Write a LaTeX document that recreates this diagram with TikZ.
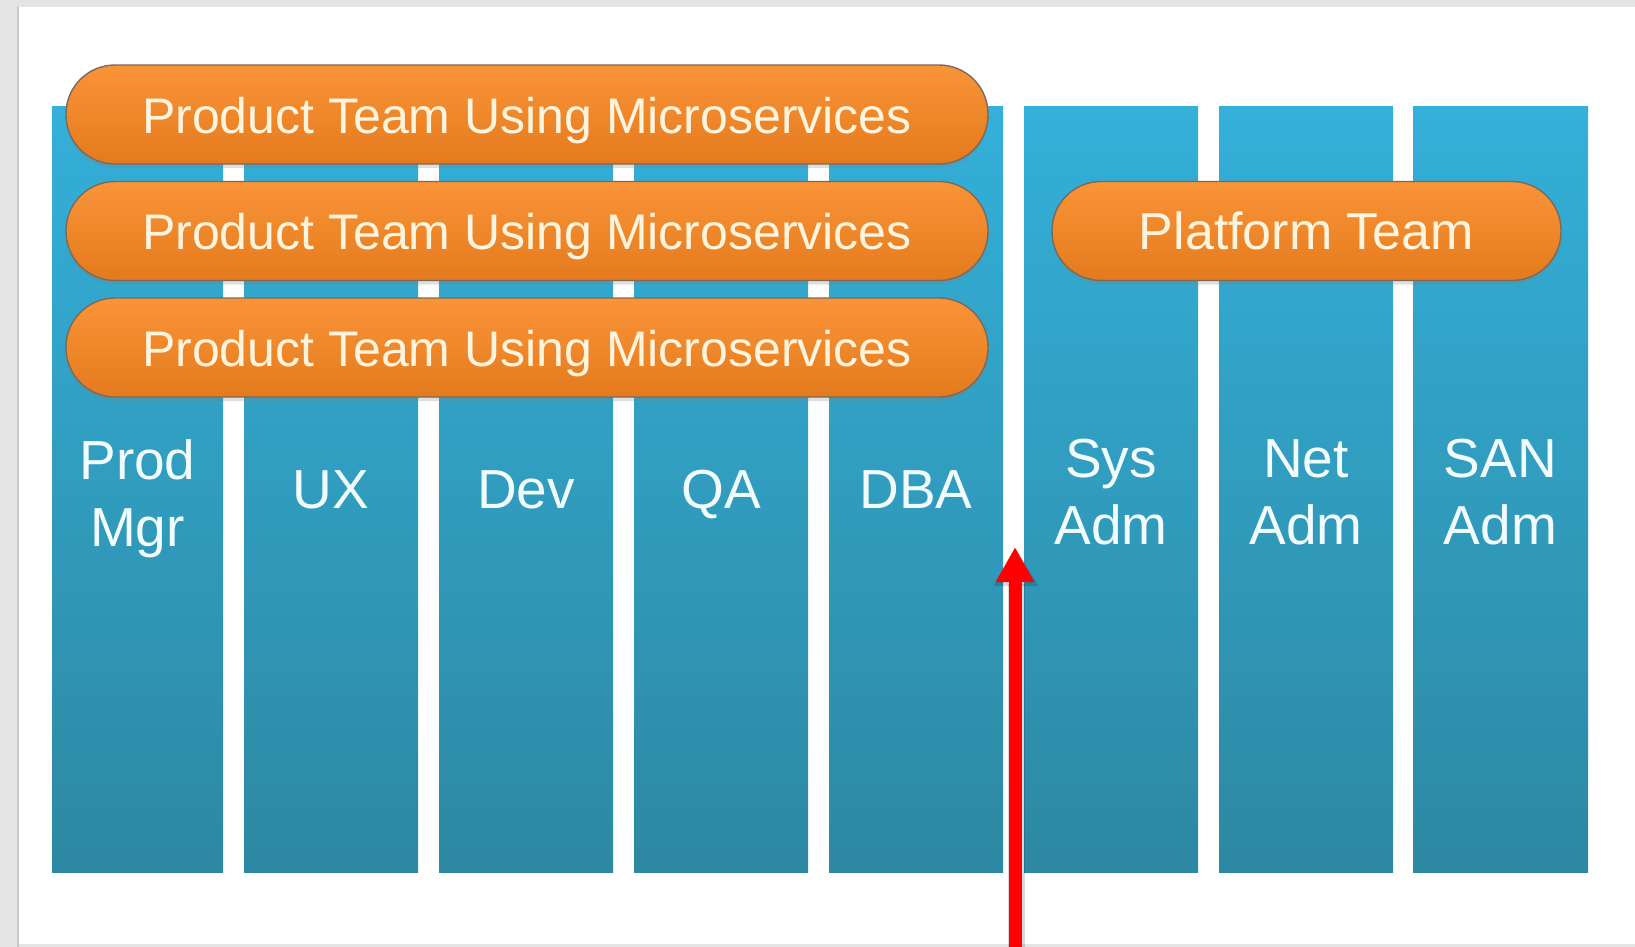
\documentclass[tikz,border=0pt]{standalone}
\usepackage{fontspec}
\setmainfont{Liberation Sans}
\usetikzlibrary{arrows.meta,shadows}
\definecolor{bggray}{HTML}{E4E4E4}
\definecolor{frameedge}{HTML}{C8C8C8}
\definecolor{coltop}{RGB}{52,176,218}
\definecolor{colbot}{RGB}{45,136,162}
\definecolor{pilltop}{RGB}{250,148,56}
\definecolor{pillbot}{RGB}{228,122,30}
\definecolor{pilledge}{RGB}{125,105,90}
\definecolor{pilltext}{RGB}{255,244,222}
\definecolor{labeltext}{RGB}{242,252,255}
\definecolor{arrowred}{RGB}{255,0,0}
\begin{document}
\begin{tikzpicture}[x=1pt,y=-1pt,
  rolecol/.style={draw=none, top color=coltop, bottom color=colbot,
    minimum height=765pt, inner sep=0pt, outer sep=0pt, anchor=north west},
  pill/.style={rounded corners=49pt, draw=pilledge, line width=1.4pt,
    top color=pilltop, bottom color=pillbot, text=pilltext,
    font=\fontsize{50}{60}\selectfont, minimum height=99pt, inner sep=0pt,
    text height=37pt, text depth=0pt,
    drop shadow={shadow xshift=0pt, shadow yshift=-4pt, opacity=0.25}},
  rolelabel/.style={text=labeltext, font=\fontsize{55}{67}\selectfont,
    align=center, inner sep=0pt},
  uparrow/.style={line width=13pt, draw=arrowred,
    -{Triangle[length=35pt,width=36pt]}}
]
\useasboundingbox (0,0) rectangle (1635,947);
% page background and slide frame
\fill[bggray] (0,0) rectangle (1635,947);
\fill[white] (18,7) rectangle (1635,944);
\draw[frameedge, line width=1.5pt] (18,7) -- (18,947);

% role columns
\node[rolecol, minimum width=171pt] (c1) at (52,107) {};
\node[rolecol, minimum width=174pt] (c2) at (244,107) {};
\node[rolecol, minimum width=174pt] (c3) at (439,107) {};
\node[rolecol, minimum width=174pt] (c4) at (634,107) {};
\node[rolecol, minimum width=174pt] (c5) at (829,107) {};
\node[rolecol, minimum width=174pt] (c6) at (1024,107) {};
\node[rolecol, minimum width=174pt] (c7) at (1219,107) {};
\node[rolecol, minimum width=175pt] (c8) at (1413,107) {};

% column labels
\node[rolelabel, anchor=north] (l1) at (137.5,439) {Prod\\Mgr};
\node[rolelabel, anchor=base] (l2) at (331,508) {UX};
\node[rolelabel, anchor=base] (l3) at (526,508) {Dev};
\node[rolelabel, anchor=base] (l4) at (721,508) {QA};
\node[rolelabel, anchor=base] (l5) at (916,508) {DBA};
\node[rolelabel, anchor=north] (l6) at (1111,439) {Sys\\Adm};
\node[rolelabel, anchor=north] (l7) at (1306,439) {Net\\Adm};
\node[rolelabel, anchor=north] (l8) at (1500.5,439) {SAN\\Adm};

% team pills
\node[pill, minimum width=922pt] (p1) at (527,114.5) {Product Team Using Microservices};
\node[pill, minimum width=922pt] (p2) at (527,231) {Product Team Using Microservices};
\node[pill, minimum width=922pt] (p3) at (527,347.5) {Product Team Using Microservices};
\node[pill, minimum width=509pt, font=\fontsize{52}{60}\selectfont] (pt) at (1306.5,231) {Platform Team};

% red arrow
\coordinate (afoot) at (1015,960);
\coordinate (atip) at (1015,547);
\draw[uparrow, draw=black, opacity=0.15, line width=17pt,
  -{Triangle[length=37pt,width=42pt]}] ([xshift=1pt,yshift=-3pt]afoot) -- ([xshift=1pt,yshift=-2pt]atip);
\draw[uparrow] (afoot) -- (atip);
\end{tikzpicture}
\end{document}
